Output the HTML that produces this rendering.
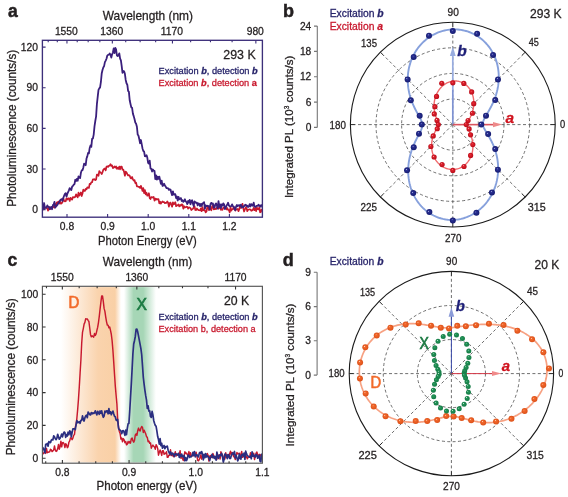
<!DOCTYPE html><html><head><meta charset="utf-8"><style>html,body{margin:0;padding:0;background:#fff;}svg{display:block;will-change:transform;}text{font-family:"Liberation Sans",sans-serif;}</style></head><body>
<svg width="568" height="497" viewBox="0 0 568 497">
<defs>
<radialGradient id="gb" cx="0.5" cy="0.5" r="0.5" fx="0.36" fy="0.34"><stop offset="0" stop-color="#e8ecff"/><stop offset="0.22" stop-color="#2a3195"/><stop offset="1" stop-color="#161b70"/></radialGradient>
<radialGradient id="gr" cx="0.5" cy="0.5" r="0.5" fx="0.36" fy="0.34"><stop offset="0" stop-color="#fff0f0"/><stop offset="0.22" stop-color="#e3242f"/><stop offset="1" stop-color="#b80c1a"/></radialGradient>
<radialGradient id="go" cx="0.5" cy="0.5" r="0.5" fx="0.36" fy="0.34"><stop offset="0" stop-color="#fff0e0"/><stop offset="0.22" stop-color="#f36a2e"/><stop offset="1" stop-color="#dc5018"/></radialGradient>
<radialGradient id="gg" cx="0.5" cy="0.5" r="0.5" fx="0.36" fy="0.34"><stop offset="0" stop-color="#e0f5e8"/><stop offset="0.22" stop-color="#24955a"/><stop offset="1" stop-color="#147a44"/></radialGradient>
<linearGradient id="orb" x1="61" y1="0" x2="121" y2="0" gradientUnits="userSpaceOnUse"><stop offset="0" stop-color="#fad3ad" stop-opacity="0"/><stop offset="0.62" stop-color="#fad3ad" stop-opacity="1"/><stop offset="0.9" stop-color="#f9d0a6" stop-opacity="1"/><stop offset="1" stop-color="#f9d0a6" stop-opacity="0"/></linearGradient>
<linearGradient id="grb" x1="124" y1="0" x2="156" y2="0" gradientUnits="userSpaceOnUse"><stop offset="0" stop-color="#a6d6b6" stop-opacity="0"/><stop offset="0.3" stop-color="#a6d6b6" stop-opacity="1"/><stop offset="0.6" stop-color="#a6d6b6" stop-opacity="1"/><stop offset="1" stop-color="#a6d6b6" stop-opacity="0"/></linearGradient>
</defs>
<rect width="568" height="497" fill="#fff"/>
<defs><clipPath id="ca"><rect x="42.4" y="40.3" width="220" height="176.9"/></clipPath></defs>
<g clip-path="url(#ca)" fill="none" stroke-linejoin="round">
<path d="M42.50,209.02 L43.30,209.43 L44.10,208.43 L44.90,207.36 L45.70,207.88 L46.50,207.06 L47.30,208.73 L48.10,210.62 L48.90,207.64 L49.70,207.24 L50.50,208.88 L51.30,208.55 L52.10,207.80 L52.90,205.90 L53.70,207.01 L54.50,207.72 L55.30,204.18 L56.10,204.90 L56.90,202.27 L57.70,202.66 L58.50,201.53 L59.30,203.56 L60.10,201.75 L60.90,203.73 L61.70,203.26 L62.50,202.11 L63.30,198.12 L64.10,200.80 L64.90,201.42 L65.70,201.23 L66.50,198.32 L67.30,199.48 L68.10,198.43 L68.90,198.47 L69.70,200.99 L70.50,197.84 L71.30,198.64 L72.10,199.68 L72.90,197.05 L73.70,197.31 L74.50,197.30 L75.30,196.71 L76.10,194.30 L76.90,195.97 L77.70,197.44 L78.50,192.59 L79.30,195.66 L80.10,194.10 L80.90,192.50 L81.70,196.04 L82.50,193.47 L83.30,189.61 L84.10,190.79 L84.90,190.86 L85.70,188.92 L86.50,189.34 L87.30,187.39 L88.10,187.70 L88.90,187.93 L89.70,183.77 L90.50,184.07 L91.30,182.28 L92.10,182.21 L92.90,179.32 L93.70,179.33 L94.50,179.20 L95.30,180.12 L96.10,179.49 L96.90,174.67 L97.70,174.55 L98.50,175.84 L99.30,171.01 L100.10,172.49 L100.90,172.59 L101.70,174.04 L102.50,172.36 L103.30,169.84 L104.10,168.88 L104.90,168.43 L105.70,170.40 L106.50,166.74 L107.30,166.27 L108.10,166.88 L108.90,165.90 L109.70,165.57 L110.50,164.19 L111.30,165.90 L112.10,165.51 L112.90,168.12 L113.70,167.47 L114.50,166.50 L115.30,167.61 L116.10,166.41 L116.90,168.84 L117.70,167.74 L118.50,168.91 L119.30,166.57 L120.10,169.35 L120.90,166.64 L121.70,166.54 L122.50,169.76 L123.30,169.57 L124.10,171.97 L124.90,175.72 L125.70,171.52 L126.50,172.26 L127.30,174.28 L128.10,175.41 L128.90,175.03 L129.70,175.71 L130.50,177.94 L131.30,178.46 L132.10,176.96 L132.90,179.38 L133.70,180.60 L134.50,180.04 L135.30,183.05 L136.10,182.59 L136.90,186.43 L137.70,186.32 L138.50,186.95 L139.30,186.74 L140.10,188.06 L140.90,185.88 L141.70,187.99 L142.50,190.97 L143.30,188.03 L144.10,193.07 L144.90,190.01 L145.70,194.31 L146.50,192.69 L147.30,195.70 L148.10,195.20 L148.90,193.22 L149.70,198.10 L150.50,199.03 L151.30,197.08 L152.10,197.10 L152.90,197.67 L153.70,197.02 L154.50,200.62 L155.30,198.64 L156.10,199.65 L156.90,198.93 L157.70,199.47 L158.50,199.04 L159.30,203.32 L160.10,201.69 L160.90,203.61 L161.70,202.39 L162.50,201.45 L163.30,202.18 L164.10,202.10 L164.90,203.16 L165.70,202.78 L166.50,202.93 L167.30,201.40 L168.10,202.61 L168.90,206.58 L169.70,203.13 L170.50,202.56 L171.30,205.00 L172.10,206.73 L172.90,202.42 L173.70,204.27 L174.50,203.72 L175.30,202.20 L176.10,206.21 L176.90,205.35 L177.70,205.50 L178.50,204.43 L179.30,206.38 L180.10,205.09 L180.90,205.74 L181.70,204.39 L182.50,204.56 L183.30,208.71 L184.10,206.23 L184.90,207.51 L185.70,207.20 L186.50,206.67 L187.30,206.78 L188.10,208.66 L188.90,207.37 L189.70,207.63 L190.50,208.12 L191.30,210.04 L192.10,209.40 L192.90,208.87 L193.70,207.31 L194.50,206.18 L195.30,209.96 L196.10,210.16 L196.90,208.50 L197.70,209.58 L198.50,210.09 L199.30,210.26 L200.10,210.33 L200.90,208.33 L201.70,211.19 L202.50,207.12 L203.30,210.28 L204.10,209.93 L204.90,210.63 L205.70,212.27 L206.50,211.50 L207.30,207.17 L208.10,206.30 L208.90,210.16 L209.70,207.52 L210.50,209.07 L211.30,210.33 L212.10,206.35 L212.90,205.59 L213.70,209.38 L214.50,209.23 L215.30,208.78 L216.10,209.14 L216.90,207.66 L217.70,206.65 L218.50,208.71 L219.30,207.47 L220.10,206.51 L220.90,209.89 L221.70,209.21 L222.50,209.80 L223.30,207.62 L224.10,208.01 L224.90,207.50 L225.70,207.76 L226.50,209.44 L227.30,208.06 L228.10,209.82 L228.90,210.06 L229.70,212.48 L230.50,207.31 L231.30,210.62 L232.10,209.25 L232.90,209.16 L233.70,206.94 L234.50,208.53 L235.30,210.50 L236.10,209.29 L236.90,209.45 L237.70,209.00 L238.50,211.21 L239.30,209.25 L240.10,205.75 L240.90,207.89 L241.70,205.85 L242.50,203.91 L243.30,208.37 L244.10,211.53 L244.90,209.50 L245.70,207.44 L246.50,207.90 L247.30,211.19 L248.10,209.80 L248.90,209.53 L249.70,209.37 L250.50,209.58 L251.30,210.81 L252.10,210.44 L252.90,209.77 L253.70,207.84 L254.50,210.14 L255.30,208.51 L256.10,211.07 L256.90,207.51 L257.70,209.15 L258.50,209.34 L259.30,207.50 L260.10,212.30 L260.90,211.98 L261.70,208.88" stroke="#c8192e" stroke-width="1.7"/>
<path d="M42.50,209.50 L43.30,208.49 L44.10,203.03 L44.90,208.03 L45.70,207.66 L46.50,207.67 L47.30,205.44 L48.10,206.72 L48.90,206.98 L49.70,209.33 L50.50,207.65 L51.30,206.84 L52.10,209.20 L52.90,205.07 L53.70,204.61 L54.50,201.82 L55.30,207.57 L56.10,206.25 L56.90,205.51 L57.70,204.39 L58.50,202.70 L59.30,202.15 L60.10,200.45 L60.90,199.56 L61.70,199.17 L62.50,200.84 L63.30,198.05 L64.10,195.78 L64.90,193.86 L65.70,193.15 L66.50,196.62 L67.30,193.94 L68.10,192.15 L68.90,190.41 L69.70,188.13 L70.50,189.26 L71.30,190.10 L72.10,186.72 L72.90,185.84 L73.70,184.81 L74.50,184.14 L75.30,179.77 L76.10,180.98 L76.90,178.84 L77.70,180.76 L78.50,176.45 L79.30,177.66 L80.10,178.02 L80.90,172.81 L81.70,170.43 L82.50,170.15 L83.30,167.68 L84.10,163.59 L84.90,164.36 L85.70,165.21 L86.50,158.55 L87.30,156.34 L88.10,152.84 L88.90,153.38 L89.70,147.94 L90.50,145.49 L91.30,146.89 L92.10,138.86 L92.90,138.53 L93.70,134.61 L94.50,126.41 L95.30,121.00 L96.10,116.37 L96.90,104.13 L97.70,96.88 L98.50,89.93 L99.30,88.41 L100.10,87.42 L100.90,81.99 L101.70,73.57 L102.50,69.97 L103.30,67.48 L104.10,66.08 L104.90,62.08 L105.70,60.59 L106.50,58.75 L107.30,55.54 L108.10,54.80 L108.90,54.69 L109.70,53.55 L110.50,54.67 L111.30,57.57 L112.10,54.31 L112.90,52.49 L113.70,48.46 L114.50,53.11 L115.30,47.94 L116.10,49.52 L116.90,55.45 L117.70,56.01 L118.50,55.19 L119.30,53.42 L120.10,58.52 L120.90,60.33 L121.70,66.24 L122.50,72.85 L123.30,71.01 L124.10,71.39 L124.90,73.81 L125.70,79.92 L126.50,83.27 L127.30,84.74 L128.10,90.87 L128.90,91.84 L129.70,100.31 L130.50,103.97 L131.30,107.39 L132.10,107.78 L132.90,113.62 L133.70,116.12 L134.50,119.08 L135.30,122.45 L136.10,123.67 L136.90,126.76 L137.70,134.58 L138.50,135.70 L139.30,139.29 L140.10,143.22 L140.90,140.00 L141.70,144.10 L142.50,148.44 L143.30,150.99 L144.10,151.56 L144.90,156.23 L145.70,156.37 L146.50,155.15 L147.30,157.52 L148.10,162.78 L148.90,163.62 L149.70,160.68 L150.50,168.49 L151.30,168.88 L152.10,171.54 L152.90,169.50 L153.70,170.73 L154.50,170.79 L155.30,179.06 L156.10,175.44 L156.90,179.63 L157.70,176.60 L158.50,178.90 L159.30,176.56 L160.10,180.13 L160.90,183.76 L161.70,180.72 L162.50,185.97 L163.30,185.55 L164.10,183.72 L164.90,185.54 L165.70,186.59 L166.50,188.18 L167.30,188.04 L168.10,188.26 L168.90,189.92 L169.70,189.26 L170.50,189.52 L171.30,192.72 L172.10,195.09 L172.90,191.33 L173.70,194.63 L174.50,194.12 L175.30,194.21 L176.10,198.15 L176.90,196.46 L177.70,200.48 L178.50,196.91 L179.30,199.30 L180.10,198.63 L180.90,198.11 L181.70,200.97 L182.50,200.16 L183.30,201.84 L184.10,200.92 L184.90,199.31 L185.70,201.43 L186.50,202.23 L187.30,204.07 L188.10,200.95 L188.90,202.47 L189.70,199.83 L190.50,204.23 L191.30,201.31 L192.10,200.15 L192.90,203.73 L193.70,206.06 L194.50,201.39 L195.30,202.16 L196.10,202.98 L196.90,202.59 L197.70,205.43 L198.50,203.45 L199.30,203.73 L200.10,206.16 L200.90,203.95 L201.70,205.99 L202.50,203.49 L203.30,202.88 L204.10,202.12 L204.90,208.92 L205.70,205.28 L206.50,206.15 L207.30,205.76 L208.10,206.13 L208.90,206.19 L209.70,209.44 L210.50,204.03 L211.30,202.83 L212.10,203.82 L212.90,203.52 L213.70,207.48 L214.50,207.68 L215.30,204.29 L216.10,203.42 L216.90,205.55 L217.70,208.56 L218.50,201.11 L219.30,206.88 L220.10,204.42 L220.90,208.06 L221.70,204.36 L222.50,205.53 L223.30,203.36 L224.10,204.50 L224.90,209.00 L225.70,208.06 L226.50,205.64 L227.30,204.53 L228.10,202.70 L228.90,205.49 L229.70,206.35 L230.50,206.29 L231.30,206.17 L232.10,204.34 L232.90,206.25 L233.70,206.57 L234.50,209.16 L235.30,210.20 L236.10,206.40 L236.90,205.07 L237.70,206.29 L238.50,205.33 L239.30,205.10 L240.10,206.28 L240.90,204.67 L241.70,207.63 L242.50,206.50 L243.30,207.06 L244.10,206.22 L244.90,205.13 L245.70,204.73 L246.50,206.03 L247.30,205.60 L248.10,207.04 L248.90,206.53 L249.70,204.08 L250.50,206.51 L251.30,204.06 L252.10,205.33 L252.90,205.84 L253.70,202.72 L254.50,206.66 L255.30,206.97 L256.10,206.36 L256.90,205.83 L257.70,205.84 L258.50,204.78 L259.30,206.02 L260.10,205.63 L260.90,206.69 L261.70,204.42" stroke="#3a1f7c" stroke-width="1.8"/>
</g>
<rect x="42.4" y="40.3" width="219.99999999999997" height="176.89999999999998" fill="none" stroke="#3d2f7a" stroke-width="1.35"/>
<path d="M67.00,217.2 V214.00 M107.60,217.2 V214.00 M148.20,217.2 V214.00 M188.80,217.2 V214.00 M229.40,217.2 V214.00 M42.4,209.60 H45.60 M42.4,168.98 H45.60 M42.4,128.36 H45.60 M42.4,87.74 H45.60 M42.4,47.12 H45.60 M48.20,40.3 V42.30 M57.30,40.3 V42.30 M66.96,40.3 V43.50 M77.22,40.3 V42.30 M88.16,40.3 V42.30 M99.84,40.3 V42.30 M112.33,40.3 V43.50 M125.72,40.3 V42.30 M140.12,40.3 V42.30 M155.65,40.3 V42.30 M172.44,40.3 V43.50 M190.64,40.3 V42.30 M210.46,40.3 V42.30 M232.10,40.3 V42.30 M255.85,40.3 V43.50" stroke="#3d2f7a" stroke-width="1.1" fill="none"/>
<text x="8.00" y="16.90" font-size="17.5" fill="#231f20" stroke="#231f20" stroke-width="0.5" font-weight="bold">a</text>
<text x="102.80" y="19.80" font-size="12.4" fill="#231f20" stroke="#231f20" stroke-width="0.28" textLength="90.20" lengthAdjust="spacingAndGlyphs">Wavelength (nm)</text>
<text x="66.36" y="35.00" font-size="10.3" fill="#231f20" stroke="#231f20" stroke-width="0.28" text-anchor="middle">1550</text>
<text x="111.73" y="35.00" font-size="10.3" fill="#231f20" stroke="#231f20" stroke-width="0.28" text-anchor="middle">1360</text>
<text x="171.84" y="35.00" font-size="10.3" fill="#231f20" stroke="#231f20" stroke-width="0.28" text-anchor="middle">1170</text>
<text x="255.25" y="35.00" font-size="10.3" fill="#231f20" stroke="#231f20" stroke-width="0.28" text-anchor="middle">980</text>
<text x="38.00" y="213.30" font-size="10.3" fill="#231f20" stroke="#231f20" stroke-width="0.28" text-anchor="end">0</text>
<text x="38.00" y="172.68" font-size="10.3" fill="#231f20" stroke="#231f20" stroke-width="0.28" text-anchor="end">30</text>
<text x="38.00" y="132.06" font-size="10.3" fill="#231f20" stroke="#231f20" stroke-width="0.28" text-anchor="end">60</text>
<text x="38.00" y="91.44" font-size="10.3" fill="#231f20" stroke="#231f20" stroke-width="0.28" text-anchor="end">90</text>
<text x="38.00" y="50.82" font-size="10.3" fill="#231f20" stroke="#231f20" stroke-width="0.28" text-anchor="end">120</text>
<text x="67.00" y="229.80" font-size="10.3" fill="#231f20" stroke="#231f20" stroke-width="0.28" text-anchor="middle">0.8</text>
<text x="107.60" y="229.80" font-size="10.3" fill="#231f20" stroke="#231f20" stroke-width="0.28" text-anchor="middle">0.9</text>
<text x="148.20" y="229.80" font-size="10.3" fill="#231f20" stroke="#231f20" stroke-width="0.28" text-anchor="middle">1.0</text>
<text x="188.80" y="229.80" font-size="10.3" fill="#231f20" stroke="#231f20" stroke-width="0.28" text-anchor="middle">1.1</text>
<text x="229.40" y="229.80" font-size="10.3" fill="#231f20" stroke="#231f20" stroke-width="0.28" text-anchor="middle">1.2</text>
<text x="98.00" y="244.50" font-size="12.2" fill="#231f20" stroke="#231f20" stroke-width="0.28" textLength="98.70" lengthAdjust="spacingAndGlyphs">Photon Energy (eV)</text>
<text x="16.40" y="206.80" font-size="12.0" fill="#231f20" stroke="#231f20" stroke-width="0.28" textLength="157.00" lengthAdjust="spacingAndGlyphs" transform="rotate(-90 16.40 206.80)">Photoluminescence (counts/s)</text>
<text x="223.30" y="59.20" font-size="13.2" fill="#231f20" stroke="#231f20" stroke-width="0.28" textLength="32.40" lengthAdjust="spacingAndGlyphs">293 K</text>
<text x="158.50" y="74.40" font-size="9.2" fill="#27246a" stroke="#27246a" stroke-width="0.28" textLength="99.20" lengthAdjust="spacingAndGlyphs">Excitation <tspan font-weight="bold" font-style="italic">b</tspan>, detection <tspan font-weight="bold" font-style="italic">b</tspan></text>
<text x="158.50" y="86.20" font-size="9.2" fill="#c8192e" stroke="#c8192e" stroke-width="0.28" textLength="98.40" lengthAdjust="spacingAndGlyphs">Excitation <tspan font-weight="bold" font-style="italic">b</tspan>, detection <tspan font-weight="bold">a</tspan></text>
<rect x="61" y="287.1" width="60" height="175.29999999999998" fill="url(#orb)"/>
<rect x="124" y="287.1" width="32" height="175.29999999999998" fill="url(#grb)"/>
<defs><clipPath id="cc"><rect x="42.4" y="286.3" width="220" height="176.9"/></clipPath></defs>
<g clip-path="url(#cc)" fill="none" stroke-linejoin="round">
<path d="M42.50,454.02 L43.30,453.54 L44.10,452.59 L44.90,451.74 L45.70,453.39 L46.50,448.51 L47.30,452.71 L48.10,452.22 L48.90,452.01 L49.70,451.82 L50.50,449.26 L51.30,449.84 L52.10,451.59 L52.90,450.91 L53.70,449.87 L54.50,445.93 L55.30,450.12 L56.10,451.49 L56.90,450.82 L57.70,448.54 L58.50,444.43 L59.30,449.39 L60.10,446.64 L60.90,441.16 L61.70,446.83 L62.50,442.64 L63.30,442.53 L64.10,443.86 L64.90,447.60 L65.70,443.79 L66.50,444.76 L67.30,447.65 L68.10,446.73 L68.90,442.25 L69.70,440.89 L70.50,437.85 L71.30,438.21 L72.10,439.67 L72.90,438.09 L73.70,435.38 L74.50,434.39 L75.30,427.30 L76.10,423.96 L76.90,418.03 L77.70,409.19 L78.50,398.85 L79.30,386.65 L80.10,373.16 L80.90,359.93 L81.70,343.17 L82.50,332.40 L83.30,328.58 L84.10,324.08 L84.90,322.33 L85.70,318.75 L86.50,319.14 L87.30,318.95 L88.10,320.33 L88.90,321.49 L89.70,327.75 L90.50,334.43 L91.30,336.88 L92.10,335.87 L92.90,336.49 L93.70,337.15 L94.50,333.56 L95.30,335.44 L96.10,333.82 L96.90,330.40 L97.70,327.19 L98.50,322.26 L99.30,316.04 L100.10,308.82 L100.90,302.20 L101.70,295.96 L102.50,295.93 L103.30,301.41 L104.10,308.39 L104.90,311.34 L105.70,316.86 L106.50,321.57 L107.30,325.02 L108.10,325.12 L108.90,327.77 L109.70,326.97 L110.50,330.32 L111.30,334.24 L112.10,340.61 L112.90,350.18 L113.70,361.86 L114.50,374.25 L115.30,386.11 L116.10,395.31 L116.90,404.03 L117.70,420.38 L118.50,426.54 L119.30,431.48 L120.10,433.43 L120.90,439.03 L121.70,437.96 L122.50,441.83 L123.30,438.61 L124.10,439.59 L124.90,442.65 L125.70,441.52 L126.50,444.86 L127.30,444.14 L128.10,441.48 L128.90,443.04 L129.70,441.57 L130.50,443.16 L131.30,438.70 L132.10,437.96 L132.90,440.70 L133.70,442.20 L134.50,440.46 L135.30,434.86 L136.10,433.88 L136.90,435.46 L137.70,430.80 L138.50,428.11 L139.30,430.20 L140.10,430.97 L140.90,428.19 L141.70,426.48 L142.50,427.47 L143.30,432.49 L144.10,430.14 L144.90,431.98 L145.70,433.82 L146.50,436.67 L147.30,437.35 L148.10,441.71 L148.90,441.09 L149.70,443.35 L150.50,442.94 L151.30,448.19 L152.10,446.31 L152.90,445.08 L153.70,446.29 L154.50,447.12 L155.30,449.28 L156.10,444.65 L156.90,446.07 L157.70,448.37 L158.50,455.17 L159.30,452.20 L160.10,450.04 L160.90,452.26 L161.70,455.42 L162.50,450.72 L163.30,450.63 L164.10,454.37 L164.90,453.27 L165.70,453.74 L166.50,451.74 L167.30,457.36 L168.10,457.37 L168.90,455.11 L169.70,455.21 L170.50,449.76 L171.30,455.59 L172.10,454.39 L172.90,455.97 L173.70,456.68 L174.50,454.40 L175.30,451.62 L176.10,456.02 L176.90,453.89 L177.70,454.69 L178.50,454.20 L179.30,454.56 L180.10,450.65 L180.90,458.25 L181.70,456.67 L182.50,458.62 L183.30,460.47 L184.10,455.97 L184.90,451.76 L185.70,453.56 L186.50,453.07 L187.30,454.71 L188.10,455.86 L188.90,451.54 L189.70,456.33 L190.50,452.68 L191.30,456.47 L192.10,455.75 L192.90,455.27 L193.70,455.73 L194.50,454.70 L195.30,454.34 L196.10,452.13 L196.90,455.95 L197.70,460.40 L198.50,460.85 L199.30,459.31 L200.10,457.67 L200.90,454.75 L201.70,459.15 L202.50,456.05 L203.30,455.80 L204.10,455.35 L204.90,456.12 L205.70,455.02 L206.50,455.62 L207.30,453.50 L208.10,455.31 L208.90,461.08 L209.70,456.10 L210.50,455.52 L211.30,457.26 L212.10,457.52 L212.90,453.56 L213.70,455.51 L214.50,458.07 L215.30,456.74 L216.10,456.50 L216.90,459.43 L217.70,454.68 L218.50,456.04 L219.30,455.03 L220.10,459.04 L220.90,451.71 L221.70,454.18 L222.50,454.81 L223.30,457.50 L224.10,457.62 L224.90,459.02 L225.70,452.73 L226.50,457.46 L227.30,455.35 L228.10,454.53 L228.90,457.02 L229.70,453.74 L230.50,451.17 L231.30,454.72 L232.10,452.50 L232.90,454.40 L233.70,456.79 L234.50,456.95 L235.30,459.58 L236.10,455.56 L236.90,452.43 L237.70,453.99 L238.50,453.68 L239.30,453.20 L240.10,456.75 L240.90,454.36 L241.70,451.56 L242.50,457.31 L243.30,455.88 L244.10,456.80 L244.90,456.36 L245.70,457.44 L246.50,456.32 L247.30,458.84 L248.10,457.16 L248.90,456.99 L249.70,456.79 L250.50,452.75 L251.30,455.42 L252.10,455.42 L252.90,456.26 L253.70,453.17 L254.50,459.52 L255.30,456.29 L256.10,453.07 L256.90,451.97 L257.70,455.14 L258.50,455.67 L259.30,454.38 L260.10,456.04 L260.90,454.64 L261.70,457.16" stroke="#c8192e" stroke-width="1.45"/>
<path d="M42.50,447.29 L43.30,448.23 L44.10,450.18 L44.90,452.82 L45.70,444.43 L46.50,444.55 L47.30,443.39 L48.10,446.17 L48.90,441.53 L49.70,442.27 L50.50,442.70 L51.30,440.08 L52.10,439.53 L52.90,439.88 L53.70,435.85 L54.50,436.73 L55.30,438.70 L56.10,439.55 L56.90,438.18 L57.70,434.24 L58.50,436.67 L59.30,439.17 L60.10,438.24 L60.90,436.23 L61.70,434.07 L62.50,436.81 L63.30,433.81 L64.10,432.01 L64.90,432.69 L65.70,437.30 L66.50,434.59 L67.30,435.99 L68.10,432.22 L68.90,434.61 L69.70,430.95 L70.50,431.61 L71.30,436.88 L72.10,432.58 L72.90,428.81 L73.70,428.75 L74.50,428.85 L75.30,429.60 L76.10,424.61 L76.90,420.61 L77.70,422.63 L78.50,422.38 L79.30,421.72 L80.10,423.35 L80.90,420.37 L81.70,420.33 L82.50,415.92 L83.30,419.18 L84.10,421.06 L84.90,417.71 L85.70,415.82 L86.50,415.17 L87.30,417.75 L88.10,412.05 L88.90,413.27 L89.70,414.49 L90.50,414.96 L91.30,412.58 L92.10,413.89 L92.90,412.78 L93.70,413.49 L94.50,412.87 L95.30,410.87 L96.10,413.16 L96.90,414.91 L97.70,411.26 L98.50,412.62 L99.30,414.35 L100.10,410.96 L100.90,413.15 L101.70,410.84 L102.50,415.07 L103.30,417.29 L104.10,416.08 L104.90,411.05 L105.70,412.31 L106.50,410.89 L107.30,410.92 L108.10,413.78 L108.90,408.62 L109.70,413.42 L110.50,411.83 L111.30,414.79 L112.10,412.56 L112.90,411.10 L113.70,413.83 L114.50,416.24 L115.30,416.70 L116.10,420.04 L116.90,420.55 L117.70,419.49 L118.50,428.05 L119.30,429.76 L120.10,430.05 L120.90,431.04 L121.70,433.64 L122.50,430.89 L123.30,430.65 L124.10,432.31 L124.90,435.38 L125.70,430.18 L126.50,434.63 L127.30,428.30 L128.10,423.78 L128.90,423.55 L129.70,411.55 L130.50,397.72 L131.30,384.08 L132.10,369.24 L132.90,353.78 L133.70,344.05 L134.50,340.70 L135.30,336.47 L136.10,329.39 L136.90,329.15 L137.70,331.84 L138.50,335.94 L139.30,340.16 L140.10,344.38 L140.90,348.65 L141.70,354.74 L142.50,365.80 L143.30,377.26 L144.10,384.04 L144.90,390.33 L145.70,395.63 L146.50,400.09 L147.30,408.50 L148.10,405.93 L148.90,411.02 L149.70,410.80 L150.50,416.53 L151.30,417.35 L152.10,411.35 L152.90,414.96 L153.70,420.45 L154.50,423.18 L155.30,425.37 L156.10,426.32 L156.90,431.20 L157.70,436.56 L158.50,439.63 L159.30,444.20 L160.10,438.62 L160.90,445.61 L161.70,443.37 L162.50,448.26 L163.30,446.40 L164.10,445.51 L164.90,448.67 L165.70,446.51 L166.50,446.86 L167.30,446.17 L168.10,450.20 L168.90,452.20 L169.70,453.85 L170.50,451.97 L171.30,454.86 L172.10,453.14 L172.90,453.26 L173.70,455.19 L174.50,456.52 L175.30,453.71 L176.10,453.99 L176.90,454.40 L177.70,455.02 L178.50,453.26 L179.30,457.46 L180.10,454.76 L180.90,456.52 L181.70,454.02 L182.50,456.66 L183.30,456.90 L184.10,455.50 L184.90,460.78 L185.70,457.63 L186.50,460.55 L187.30,458.74 L188.10,455.06 L188.90,455.61 L189.70,457.44 L190.50,456.70 L191.30,456.58 L192.10,455.64 L192.90,452.37 L193.70,455.49 L194.50,451.53 L195.30,456.97 L196.10,454.82 L196.90,454.77 L197.70,455.95 L198.50,456.91 L199.30,453.09 L200.10,452.25 L200.90,453.63 L201.70,451.65 L202.50,454.27 L203.30,459.83 L204.10,454.40 L204.90,457.66 L205.70,453.53 L206.50,456.96 L207.30,455.81 L208.10,456.40 L208.90,457.99 L209.70,460.55 L210.50,457.17 L211.30,456.68 L212.10,454.40 L212.90,457.66 L213.70,456.12 L214.50,458.34 L215.30,456.72 L216.10,460.16 L216.90,452.22 L217.70,455.69 L218.50,458.40 L219.30,455.72 L220.10,454.64 L220.90,455.63 L221.70,453.38 L222.50,456.90 L223.30,462.15 L224.10,459.24 L224.90,454.04 L225.70,454.35 L226.50,455.61 L227.30,458.61 L228.10,454.69 L228.90,454.95 L229.70,458.51 L230.50,458.51 L231.30,455.63 L232.10,453.74 L232.90,452.79 L233.70,454.45 L234.50,451.49 L235.30,457.83 L236.10,455.24 L236.90,457.74 L237.70,460.91 L238.50,459.23 L239.30,454.17 L240.10,458.46 L240.90,459.12 L241.70,454.85 L242.50,454.25 L243.30,455.93 L244.10,453.07 L244.90,459.31 L245.70,451.13 L246.50,453.68 L247.30,455.73 L248.10,455.98 L248.90,456.88 L249.70,457.10 L250.50,456.20 L251.30,458.76 L252.10,451.83 L252.90,456.14 L253.70,454.91 L254.50,456.74 L255.30,456.90 L256.10,454.40 L256.90,455.04 L257.70,458.25 L258.50,457.30 L259.30,455.27 L260.10,461.29 L260.90,461.77 L261.70,453.50" stroke="#2b2e80" stroke-width="1.7"/>
</g>
<rect x="42.4" y="286.3" width="219.99999999999997" height="176.89999999999998" fill="none" stroke="#555" stroke-width="1.15"/>
<path d="M45.73,463.2 V461.20 M62.40,463.2 V460.00 M79.07,463.2 V461.20 M95.74,463.2 V461.20 M112.40,463.2 V461.20 M129.07,463.2 V460.00 M145.74,463.2 V461.20 M162.41,463.2 V461.20 M179.07,463.2 V461.20 M195.74,463.2 V460.00 M212.41,463.2 V461.20 M229.08,463.2 V461.20 M245.74,463.2 V461.20 M42.4,458.20 H45.60 M42.4,425.40 H45.60 M42.4,392.60 H45.60 M42.4,359.80 H45.60 M42.4,327.00 H45.60 M42.4,294.20 H45.60 M46.47,286.3 V288.30 M62.33,286.3 V289.50 M79.19,286.3 V288.30 M97.15,286.3 V288.30 M116.32,286.3 V288.30 M136.84,286.3 V289.50 M158.83,286.3 V288.30 M182.48,286.3 V288.30 M207.97,286.3 V288.30 M235.54,286.3 V289.50" stroke="#333" stroke-width="1.1" fill="none"/>
<text x="7.60" y="265.80" font-size="17.5" fill="#231f20" stroke="#231f20" stroke-width="0.5" font-weight="bold">c</text>
<text x="102.80" y="265.90" font-size="12.4" fill="#231f20" stroke="#231f20" stroke-width="0.28" textLength="89.50" lengthAdjust="spacingAndGlyphs">Wavelength (nm)</text>
<text x="62.33" y="280.90" font-size="10.3" fill="#231f20" stroke="#231f20" stroke-width="0.28" text-anchor="middle">1550</text>
<text x="136.84" y="280.90" font-size="10.3" fill="#231f20" stroke="#231f20" stroke-width="0.28" text-anchor="middle">1360</text>
<text x="235.54" y="280.90" font-size="10.3" fill="#231f20" stroke="#231f20" stroke-width="0.28" text-anchor="middle">1170</text>
<text x="38.20" y="461.90" font-size="10.3" fill="#231f20" stroke="#231f20" stroke-width="0.28" text-anchor="end">0</text>
<text x="38.20" y="429.10" font-size="10.3" fill="#231f20" stroke="#231f20" stroke-width="0.28" text-anchor="end">20</text>
<text x="38.20" y="396.30" font-size="10.3" fill="#231f20" stroke="#231f20" stroke-width="0.28" text-anchor="end">40</text>
<text x="38.20" y="363.50" font-size="10.3" fill="#231f20" stroke="#231f20" stroke-width="0.28" text-anchor="end">60</text>
<text x="38.20" y="330.70" font-size="10.3" fill="#231f20" stroke="#231f20" stroke-width="0.28" text-anchor="end">80</text>
<text x="38.20" y="297.90" font-size="10.3" fill="#231f20" stroke="#231f20" stroke-width="0.28" text-anchor="end">100</text>
<text x="62.40" y="476.30" font-size="10.3" fill="#231f20" stroke="#231f20" stroke-width="0.28" text-anchor="middle">0.8</text>
<text x="129.07" y="476.30" font-size="10.3" fill="#231f20" stroke="#231f20" stroke-width="0.28" text-anchor="middle">0.9</text>
<text x="195.74" y="476.30" font-size="10.3" fill="#231f20" stroke="#231f20" stroke-width="0.28" text-anchor="middle">1.0</text>
<text x="262.41" y="476.30" font-size="10.3" fill="#231f20" stroke="#231f20" stroke-width="0.28" text-anchor="middle">1.1</text>
<text x="96.50" y="489.60" font-size="12.2" fill="#231f20" stroke="#231f20" stroke-width="0.28" textLength="100.50" lengthAdjust="spacingAndGlyphs">Photon energy (eV)</text>
<text x="15.30" y="455.30" font-size="12.0" fill="#231f20" stroke="#231f20" stroke-width="0.28" textLength="157.00" lengthAdjust="spacingAndGlyphs" transform="rotate(-90 15.30 455.30)">Photoluminescence (counts/s)</text>
<text x="223.90" y="304.60" font-size="12.8" fill="#231f20" stroke="#231f20" stroke-width="0.28" textLength="25.30" lengthAdjust="spacingAndGlyphs">20 K</text>
<text x="158.50" y="319.80" font-size="9.2" fill="#27246a" stroke="#27246a" stroke-width="0.28" textLength="99.20" lengthAdjust="spacingAndGlyphs">Excitation <tspan font-weight="bold" font-style="italic">b</tspan>, detection <tspan font-weight="bold" font-style="italic">b</tspan></text>
<text x="158.50" y="331.60" font-size="9.2" fill="#c8192e" stroke="#c8192e" stroke-width="0.28" textLength="97.20" lengthAdjust="spacingAndGlyphs">Excitation b, detection a</text>
<text x="68.60" y="308.30" font-size="16.8" fill="#f26a2a" stroke="#f26a2a" stroke-width="0.7" textLength="10.80" lengthAdjust="spacingAndGlyphs">D</text>
<text x="136.60" y="309.50" font-size="17.2" fill="#1b7a42" stroke="#1b7a42" stroke-width="0.7" textLength="10.40" lengthAdjust="spacingAndGlyphs">X</text>
<circle cx="452.8" cy="124.6" r="25.60" fill="none" stroke="#555" stroke-width="0.85" stroke-dasharray="3 2.4"/>
<circle cx="452.8" cy="124.6" r="51.20" fill="none" stroke="#555" stroke-width="0.85" stroke-dasharray="3 2.4"/>
<circle cx="452.8" cy="124.6" r="76.80" fill="none" stroke="#555" stroke-width="0.85" stroke-dasharray="3 2.4"/>
<path d="M452.80,124.60 L551.20,124.60 M452.80,124.60 L522.38,55.02 M452.80,124.60 L452.80,26.20 M452.80,124.60 L383.22,55.02 M452.80,124.60 L354.40,124.60 M452.80,124.60 L383.22,194.18 M452.80,124.60 L452.80,223.00 M452.80,124.60 L522.38,194.18" fill="none" stroke="#555" stroke-width="0.85" stroke-dasharray="3 2.4"/>
<path d="M550.70,124.60 L555.20,124.60 M522.03,55.37 L525.21,52.19 M452.80,26.70 L452.80,22.20 M383.57,55.37 L380.39,52.19 M354.90,124.60 L350.40,124.60 M383.57,193.83 L380.39,197.01 M452.80,222.50 L452.80,227.00 M522.03,193.83 L525.21,197.01" fill="none" stroke="#222" stroke-width="1"/>
<circle cx="452.8" cy="124.6" r="102.4" fill="none" stroke="#1a1a1a" stroke-width="1.1"/>
<line x1="452.8" y1="124.6" x2="452.8" y2="55" stroke="#98acdf" stroke-width="1.7"/>
<polygon points="452.8,46.6 449.90000000000003,56 455.7,56" fill="#98acdf"/>
<line x1="452.8" y1="124.6" x2="493.5" y2="124.6" stroke="#ee8a8a" stroke-width="1.8"/>
<polygon points="502.2,124.6 493,121.89999999999999 493,127.3" fill="#ee8a8a"/>
<line x1="452.8" y1="124.6" x2="452.8" y2="90" stroke="#6677c4" stroke-width="0.7"/>
<line x1="452.8" y1="124.6" x2="493" y2="124.6" stroke="#d04050" stroke-width="0.8"/>
<path d="M482.97,124.60 L482.92,124.07 L482.91,123.55 L482.94,123.02 L483.00,122.49 L483.10,121.95 L483.24,121.40 L483.41,120.84 L483.61,120.27 L483.85,119.68 L484.12,119.08 L484.42,118.45 L484.75,117.81 L485.12,117.14 L485.51,116.45 L485.92,115.72 L486.36,114.98 L486.83,114.20 L487.31,113.39 L487.81,112.55 L488.33,111.67 L488.86,110.76 L489.40,109.81 L489.95,108.83 L490.50,107.81 L491.06,106.76 L491.62,105.67 L492.18,104.54 L492.73,103.37 L493.27,102.17 L493.81,100.92 L494.33,99.65 L494.83,98.34 L495.32,96.99 L495.78,95.61 L496.22,94.20 L496.63,92.75 L497.02,91.28 L497.37,89.78 L497.68,88.25 L497.97,86.70 L498.21,85.13 L498.41,83.53 L498.57,81.92 L498.68,80.29 L498.75,78.65 L498.77,77.00 L498.74,75.34 L498.66,73.67 L498.53,72.00 L498.34,70.32 L498.11,68.65 L497.81,66.98 L497.47,65.32 L497.07,63.67 L496.61,62.03 L496.10,60.41 L495.53,58.80 L494.90,57.22 L494.23,55.65 L493.49,54.12 L492.71,52.61 L491.87,51.13 L490.97,49.68 L490.03,48.27 L489.04,46.89 L487.99,45.56 L486.90,44.26 L485.76,43.01 L484.58,41.81 L483.36,40.65 L482.09,39.54 L480.78,38.48 L479.44,37.48 L478.06,36.52 L476.64,35.63 L475.19,34.79 L473.72,34.00 L472.21,33.28 L470.68,32.61 L469.13,32.01 L467.55,31.46 L465.96,30.98 L464.35,30.56 L462.72,30.21 L461.08,29.91 L459.44,29.68 L457.78,29.52 L456.12,29.42 L454.46,29.38 L452.80,29.41 L451.14,29.50 L449.48,29.65 L447.84,29.87 L446.20,30.14 L444.57,30.48 L442.95,30.89 L441.35,31.35 L439.77,31.87 L438.21,32.45 L436.66,33.09 L435.15,33.79 L433.66,34.54 L432.19,35.35 L430.76,36.21 L429.36,37.12 L427.99,38.08 L426.66,39.10 L425.36,40.16 L424.10,41.26 L422.89,42.41 L421.71,43.60 L420.57,44.83 L419.48,46.11 L418.43,47.41 L417.43,48.76 L416.48,50.13 L415.57,51.54 L414.71,52.97 L413.90,54.43 L413.14,55.92 L412.44,57.42 L411.78,58.95 L411.17,60.49 L410.61,62.05 L410.10,63.62 L409.64,65.20 L409.24,66.79 L408.88,68.38 L408.57,69.98 L408.31,71.58 L408.10,73.18 L407.94,74.78 L407.82,76.37 L407.75,77.95 L407.72,79.52 L407.74,81.09 L407.80,82.63 L407.90,84.17 L408.03,85.68 L408.20,87.18 L408.41,88.66 L408.65,90.11 L408.93,91.54 L409.23,92.95 L409.56,94.32 L409.92,95.68 L410.30,97.00 L410.70,98.29 L411.12,99.56 L411.56,100.79 L412.01,101.99 L412.48,103.16 L412.95,104.30 L413.43,105.40 L413.92,106.47 L414.41,107.51 L414.91,108.52 L415.40,109.49 L415.89,110.43 L416.37,111.34 L416.85,112.22 L417.32,113.07 L417.77,113.89 L418.21,114.68 L418.64,115.45 L419.05,116.19 L419.44,116.90 L419.82,117.59 L420.17,118.26 L420.49,118.90 L420.80,119.53 L421.07,120.14 L421.32,120.74 L421.55,121.32 L421.74,121.88 L421.91,122.44 L422.04,122.99 L422.15,123.53 L422.22,124.07 L422.27,124.60 L422.28,125.13 L422.26,125.67 L422.21,126.20 L422.14,126.74 L422.02,127.29 L421.88,127.85 L421.72,128.42 L421.52,129.00 L421.29,129.59 L421.04,130.20 L420.76,130.83 L420.45,131.48 L420.13,132.14 L419.78,132.83 L419.41,133.55 L419.02,134.29 L418.61,135.05 L418.18,135.85 L417.75,136.67 L417.30,137.52 L416.84,138.41 L416.37,139.32 L415.89,140.27 L415.41,141.25 L414.93,142.26 L414.44,143.31 L413.96,144.39 L413.49,145.50 L413.02,146.65 L412.55,147.84 L412.10,149.05 L411.67,150.30 L411.25,151.59 L410.84,152.90 L410.46,154.25 L410.10,155.62 L409.76,157.03 L409.46,158.46 L409.18,159.93 L408.93,161.41 L408.71,162.93 L408.53,164.46 L408.39,166.02 L408.28,167.59 L408.22,169.18 L408.19,170.79 L408.22,172.41 L408.28,174.04 L408.39,175.68 L408.55,177.33 L408.76,178.98 L409.02,180.63 L409.33,182.28 L409.70,183.93 L410.11,185.57 L410.58,187.20 L411.09,188.82 L411.67,190.43 L412.29,192.01 L412.97,193.58 L413.71,195.13 L414.49,196.65 L415.33,198.14 L416.22,199.60 L417.16,201.03 L418.15,202.42 L419.19,203.78 L420.28,205.09 L421.41,206.36 L422.59,207.59 L423.82,208.77 L425.09,209.89 L426.39,210.97 L427.74,211.99 L429.12,212.96 L430.54,213.86 L432.00,214.71 L433.48,215.50 L434.99,216.23 L436.53,216.89 L438.09,217.49 L439.67,218.03 L441.27,218.50 L442.89,218.90 L444.52,219.24 L446.16,219.50 L447.82,219.70 L449.47,219.83 L451.14,219.90 L452.80,219.89 L454.46,219.82 L456.12,219.68 L457.77,219.47 L459.41,219.20 L461.05,218.86 L462.66,218.46 L464.27,217.99 L465.85,217.46 L467.41,216.87 L468.96,216.22 L470.47,215.51 L471.96,214.74 L473.42,213.92 L474.85,213.05 L476.25,212.12 L477.61,211.14 L478.94,210.11 L480.24,209.04 L481.49,207.92 L482.70,206.76 L483.88,205.55 L485.01,204.31 L486.09,203.03 L487.14,201.72 L488.13,200.37 L489.09,199.00 L489.99,197.59 L490.85,196.16 L491.66,194.71 L492.42,193.23 L493.14,191.74 L493.81,190.22 L494.42,188.70 L494.99,187.15 L495.51,185.60 L495.99,184.04 L496.41,182.47 L496.79,180.90 L497.12,179.33 L497.40,177.75 L497.63,176.18 L497.82,174.61 L497.97,173.04 L498.07,171.48 L498.13,169.93 L498.15,168.39 L498.12,166.86 L498.06,165.35 L497.95,163.85 L497.81,162.37 L497.63,160.91 L497.42,159.46 L497.18,158.04 L496.90,156.64 L496.60,155.27 L496.26,153.92 L495.91,152.59 L495.52,151.30 L495.12,150.03 L494.69,148.79 L494.25,147.57 L493.79,146.39 L493.31,145.24 L492.82,144.12 L492.33,143.03 L491.82,141.97 L491.32,140.95 L490.80,139.95 L490.29,138.99 L489.78,138.06 L489.27,137.16 L488.77,136.29 L488.27,135.45 L487.79,134.63 L487.32,133.85 L486.86,133.09 L486.42,132.36 L486.00,131.66 L485.59,130.97 L485.21,130.32 L484.86,129.68 L484.53,129.06 L484.22,128.46 L483.95,127.87 L483.70,127.30 L483.49,126.75 L483.31,126.20 L483.16,125.66 L483.05,125.13 L482.97,124.60Z" fill="none" stroke="#86a0dc" stroke-width="1.9"/>
<path d="M467.00,124.60 L467.03,124.35 L467.08,124.10 L467.14,123.85 L467.21,123.59 L467.29,123.33 L467.39,123.07 L467.49,122.80 L467.61,122.52 L467.73,122.23 L467.87,121.94 L468.01,121.64 L468.17,121.33 L468.33,121.01 L468.51,120.68 L468.69,120.34 L468.87,119.99 L469.07,119.63 L469.27,119.25 L469.47,118.86 L469.68,118.46 L469.89,118.04 L470.11,117.61 L470.32,117.16 L470.54,116.70 L470.76,116.22 L470.98,115.73 L471.20,115.23 L471.41,114.70 L471.63,114.16 L471.84,113.61 L472.04,113.04 L472.23,112.46 L472.42,111.86 L472.61,111.24 L472.78,110.61 L472.94,109.97 L473.09,109.31 L473.23,108.64 L473.36,107.95 L473.47,107.25 L473.57,106.54 L473.65,105.83 L473.72,105.10 L473.76,104.36 L473.79,103.61 L473.80,102.85 L473.79,102.09 L473.76,101.32 L473.70,100.55 L473.63,99.78 L473.53,99.00 L473.40,98.23 L473.26,97.45 L473.09,96.68 L472.89,95.91 L472.67,95.14 L472.42,94.38 L472.15,93.63 L471.85,92.89 L471.53,92.16 L471.18,91.44 L470.81,90.73 L470.41,90.04 L469.99,89.36 L469.54,88.71 L469.06,88.07 L468.57,87.45 L468.05,86.85 L467.51,86.28 L466.95,85.73 L466.36,85.21 L465.76,84.71 L465.14,84.24 L464.50,83.80 L463.84,83.39 L463.17,83.01 L462.48,82.66 L461.78,82.34 L461.07,82.05 L460.35,81.80 L459.61,81.58 L458.87,81.39 L458.12,81.24 L457.37,81.12 L456.61,81.04 L455.85,80.99 L455.09,80.97 L454.32,80.99 L453.56,81.04 L452.80,81.13 L452.04,81.25 L451.29,81.40 L450.55,81.59 L449.81,81.80 L449.08,82.05 L448.36,82.33 L447.65,82.64 L446.95,82.98 L446.26,83.34 L445.59,83.73 L444.94,84.15 L444.30,84.59 L443.67,85.06 L443.06,85.54 L442.47,86.05 L441.90,86.58 L441.35,87.13 L440.81,87.70 L440.30,88.29 L439.80,88.89 L439.33,89.50 L438.87,90.13 L438.44,90.77 L438.03,91.43 L437.64,92.09 L437.27,92.76 L436.92,93.44 L436.59,94.12 L436.29,94.81 L436.00,95.51 L435.74,96.20 L435.49,96.90 L435.27,97.61 L435.07,98.31 L434.88,99.01 L434.72,99.71 L434.57,100.41 L434.44,101.10 L434.33,101.80 L434.24,102.48 L434.17,103.17 L434.11,103.84 L434.07,104.51 L434.04,105.17 L434.03,105.83 L434.03,106.47 L434.05,107.11 L434.08,107.74 L434.12,108.36 L434.17,108.97 L434.24,109.57 L434.31,110.16 L434.40,110.73 L434.49,111.30 L434.60,111.85 L434.71,112.40 L434.83,112.93 L434.95,113.45 L435.08,113.95 L435.22,114.45 L435.36,114.93 L435.50,115.40 L435.65,115.86 L435.80,116.31 L435.95,116.74 L436.10,117.16 L436.25,117.57 L436.40,117.97 L436.54,118.36 L436.69,118.74 L436.83,119.10 L436.97,119.46 L437.10,119.80 L437.23,120.14 L437.36,120.46 L437.48,120.78 L437.59,121.09 L437.69,121.39 L437.78,121.68 L437.87,121.97 L437.95,122.25 L438.02,122.52 L438.07,122.79 L438.12,123.06 L438.16,123.32 L438.18,123.58 L438.20,123.83 L438.20,124.09 L438.19,124.35 L438.17,124.60 L438.14,124.86 L438.09,125.11 L438.04,125.37 L437.97,125.64 L437.89,125.90 L437.79,126.18 L437.69,126.46 L437.57,126.74 L437.45,127.03 L437.31,127.33 L437.16,127.64 L437.01,127.96 L436.84,128.28 L436.67,128.62 L436.48,128.97 L436.29,129.33 L436.10,129.71 L435.89,130.09 L435.69,130.49 L435.47,130.91 L435.26,131.33 L435.04,131.78 L434.82,132.23 L434.60,132.70 L434.38,133.19 L434.16,133.69 L433.95,134.21 L433.73,134.74 L433.53,135.28 L433.32,135.85 L433.13,136.42 L432.94,137.01 L432.75,137.62 L432.58,138.24 L432.42,138.87 L432.27,139.52 L432.13,140.17 L432.01,140.84 L431.90,141.53 L431.80,142.22 L431.72,142.92 L431.66,143.64 L431.61,144.36 L431.59,145.09 L431.58,145.82 L431.59,146.57 L431.62,147.31 L431.67,148.07 L431.75,148.82 L431.84,149.58 L431.96,150.34 L432.10,151.10 L432.26,151.86 L432.45,152.61 L432.66,153.36 L432.89,154.11 L433.15,154.86 L433.43,155.59 L433.74,156.32 L434.07,157.05 L434.42,157.76 L434.80,158.46 L435.20,159.14 L435.62,159.82 L436.07,160.48 L436.54,161.12 L437.03,161.75 L437.54,162.36 L438.08,162.95 L438.63,163.52 L439.21,164.08 L439.80,164.60 L440.41,165.11 L441.05,165.59 L441.69,166.05 L442.36,166.48 L443.04,166.89 L443.73,167.27 L444.44,167.62 L445.16,167.94 L445.89,168.23 L446.63,168.50 L447.38,168.73 L448.14,168.93 L448.91,169.10 L449.68,169.24 L450.46,169.34 L451.23,169.42 L452.02,169.46 L452.80,169.47 L453.58,169.44 L454.36,169.39 L455.14,169.30 L455.92,169.17 L456.69,169.02 L457.45,168.83 L458.20,168.61 L458.95,168.35 L459.69,168.07 L460.41,167.76 L461.12,167.41 L461.82,167.03 L462.50,166.63 L463.17,166.20 L463.82,165.74 L464.46,165.25 L465.07,164.74 L465.67,164.20 L466.24,163.64 L466.80,163.05 L467.33,162.45 L467.84,161.82 L468.32,161.17 L468.79,160.51 L469.23,159.83 L469.64,159.13 L470.03,158.42 L470.40,157.69 L470.74,156.96 L471.05,156.21 L471.34,155.46 L471.60,154.69 L471.84,153.92 L472.06,153.15 L472.25,152.37 L472.41,151.59 L472.55,150.81 L472.67,150.03 L472.76,149.25 L472.83,148.47 L472.88,147.70 L472.91,146.93 L472.92,146.17 L472.90,145.42 L472.87,144.67 L472.82,143.93 L472.75,143.21 L472.67,142.49 L472.57,141.79 L472.46,141.09 L472.33,140.42 L472.19,139.75 L472.04,139.10 L471.88,138.46 L471.71,137.84 L471.53,137.24 L471.35,136.65 L471.16,136.07 L470.96,135.51 L470.76,134.97 L470.56,134.44 L470.35,133.93 L470.15,133.44 L469.94,132.96 L469.74,132.50 L469.54,132.05 L469.34,131.62 L469.14,131.20 L468.95,130.80 L468.76,130.41 L468.58,130.03 L468.41,129.67 L468.24,129.32 L468.08,128.98 L467.93,128.66 L467.79,128.34 L467.66,128.03 L467.54,127.73 L467.43,127.44 L467.34,127.16 L467.25,126.89 L467.17,126.62 L467.11,126.36 L467.05,126.10 L467.01,125.84 L466.99,125.59 L466.97,125.34 L466.97,125.09 L466.98,124.85 L467.00,124.60Z" fill="none" stroke="#f06a6c" stroke-width="1.4"/>
<g fill="url(#gr)"><circle cx="466.30" cy="124.60" r="2.6"/><circle cx="468.06" cy="120.51" r="2.6"/><circle cx="472.46" cy="113.25" r="2.6"/><circle cx="473.73" cy="103.67" r="2.6"/><circle cx="471.65" cy="91.95" r="2.6"/><circle cx="463.83" cy="83.45" r="2.6"/><circle cx="452.80" cy="82.80" r="2.6"/><circle cx="441.75" cy="83.35" r="2.6"/><circle cx="436.55" cy="96.45" r="2.6"/><circle cx="434.91" cy="106.71" r="2.6"/><circle cx="434.27" cy="113.90" r="2.6"/><circle cx="437.06" cy="120.38" r="2.6"/><circle cx="438.30" cy="124.60" r="2.6"/><circle cx="437.25" cy="128.77" r="2.6"/><circle cx="433.23" cy="135.90" r="2.6"/><circle cx="430.88" cy="146.52" r="2.6"/><circle cx="434.10" cy="156.99" r="2.6"/><circle cx="442.08" cy="164.59" r="2.6"/><circle cx="452.80" cy="170.40" r="2.6"/><circle cx="464.03" cy="166.52" r="2.6"/><circle cx="470.60" cy="155.43" r="2.6"/><circle cx="472.81" cy="144.61" r="2.6"/><circle cx="470.55" cy="134.85" r="2.6"/><circle cx="469.12" cy="128.97" r="2.6"/></g>
<g fill="url(#gb)"><circle cx="481.30" cy="124.60" r="3.0"/><circle cx="486.03" cy="115.70" r="3.0"/><circle cx="495.24" cy="100.10" r="3.0"/><circle cx="497.98" cy="79.42" r="3.0"/><circle cx="493.05" cy="54.88" r="3.0"/><circle cx="477.13" cy="33.80" r="3.0"/><circle cx="452.80" cy="31.10" r="3.0"/><circle cx="428.99" cy="35.73" r="3.0"/><circle cx="413.70" cy="56.88" r="3.0"/><circle cx="407.62" cy="79.42" r="3.0"/><circle cx="410.80" cy="100.35" r="3.0"/><circle cx="419.67" cy="115.72" r="3.0"/><circle cx="421.80" cy="124.60" r="3.0"/><circle cx="418.99" cy="133.66" r="3.0"/><circle cx="413.74" cy="147.15" r="3.0"/><circle cx="407.05" cy="170.35" r="3.0"/><circle cx="413.25" cy="193.10" r="3.0"/><circle cx="429.35" cy="212.11" r="3.0"/><circle cx="452.80" cy="220.60" r="3.0"/><circle cx="476.43" cy="212.79" r="3.0"/><circle cx="491.95" cy="192.41" r="3.0"/><circle cx="497.91" cy="169.71" r="3.0"/><circle cx="495.24" cy="149.10" r="3.0"/><circle cx="488.15" cy="134.07" r="3.0"/></g>
<text x="457.20" y="55.70" font-size="15.5" fill="#1e1f78" stroke="#1e1f78" stroke-width="0.28" font-weight="bold" font-style="italic">b</text>
<text x="505.60" y="122.60" font-size="15.5" fill="#d0141f" stroke="#d0141f" stroke-width="0.28" font-weight="bold" font-style="italic">a</text>
<path d="M317.3,26.1 V127.4 M314,26.1 H317.3 M314,51.4 H317.3 M314,76.7 H317.3 M314,102.1 H317.3 M314,127.4 H317.3" stroke="#777" stroke-width="1.1" fill="none"/>
<text x="311.30" y="29.70" font-size="10.2" fill="#231f20" stroke="#231f20" stroke-width="0.28" text-anchor="end">24</text>
<text x="311.30" y="55.00" font-size="10.2" fill="#231f20" stroke="#231f20" stroke-width="0.28" text-anchor="end">18</text>
<text x="311.30" y="80.30" font-size="10.2" fill="#231f20" stroke="#231f20" stroke-width="0.28" text-anchor="end">12</text>
<text x="311.30" y="105.70" font-size="10.2" fill="#231f20" stroke="#231f20" stroke-width="0.28" text-anchor="end">6</text>
<text x="311.30" y="131.00" font-size="10.2" fill="#231f20" stroke="#231f20" stroke-width="0.28" text-anchor="end">0</text>
<text x="292.60" y="198.10" font-size="11.6" fill="#231f20" stroke="#231f20" stroke-width="0.28" textLength="142.40" lengthAdjust="spacingAndGlyphs" transform="rotate(-90 292.60 198.10)">Integrated PL (10<tspan font-size="6.5" dy="-3.5">3</tspan><tspan dy="3.5"> counts/s)</tspan></text>
<text x="283.00" y="17.10" font-size="18" fill="#231f20" stroke="#231f20" stroke-width="0.5" font-weight="bold">b</text>
<text x="329.70" y="16.70" font-size="10" fill="#27246a" stroke="#27246a" stroke-width="0.28" textLength="54.00" lengthAdjust="spacingAndGlyphs">Excitation <tspan font-weight="bold" font-style="italic">b</tspan></text>
<text x="329.70" y="30.30" font-size="10" fill="#c8192e" stroke="#c8192e" stroke-width="0.28" textLength="53.30" lengthAdjust="spacingAndGlyphs">Excitation <tspan font-weight="bold" font-style="italic">a</tspan></text>
<text x="530.00" y="17.50" font-size="12.6" fill="#231f20" stroke="#231f20" stroke-width="0.28" textLength="31.70" lengthAdjust="spacingAndGlyphs">293 K</text>
<text x="447.50" y="15.50" font-size="10.6" fill="#231f20" stroke="#231f20" stroke-width="0.28" textLength="11.30" lengthAdjust="spacingAndGlyphs">90</text>
<text x="361.00" y="46.50" font-size="10.6" fill="#231f20" stroke="#231f20" stroke-width="0.28" textLength="16.00" lengthAdjust="spacingAndGlyphs">135</text>
<text x="528.80" y="46.20" font-size="10.6" fill="#231f20" stroke="#231f20" stroke-width="0.28" textLength="10.10" lengthAdjust="spacingAndGlyphs">45</text>
<text x="329.50" y="128.70" font-size="10.6" fill="#231f20" stroke="#231f20" stroke-width="0.28" textLength="16.40" lengthAdjust="spacingAndGlyphs">180</text>
<text x="560.00" y="128.10" font-size="10.6" fill="#231f20" stroke="#231f20" stroke-width="0.28" textLength="5.20" lengthAdjust="spacingAndGlyphs">0</text>
<text x="360.60" y="211.10" font-size="10.6" fill="#231f20" stroke="#231f20" stroke-width="0.28" textLength="16.50" lengthAdjust="spacingAndGlyphs">225</text>
<text x="527.70" y="211.10" font-size="10.6" fill="#231f20" stroke="#231f20" stroke-width="0.28" textLength="18.00" lengthAdjust="spacingAndGlyphs">315</text>
<text x="445.00" y="242.20" font-size="10.6" fill="#231f20" stroke="#231f20" stroke-width="0.28" textLength="16.40" lengthAdjust="spacingAndGlyphs">270</text>
<circle cx="451.4" cy="373.6" r="34.07" fill="none" stroke="#555" stroke-width="0.85" stroke-dasharray="3 2.4"/>
<circle cx="451.4" cy="373.6" r="68.13" fill="none" stroke="#555" stroke-width="0.85" stroke-dasharray="3 2.4"/>
<path d="M451.40,373.60 L549.60,373.60 M451.40,373.60 L520.84,304.16 M451.40,373.60 L451.40,275.40 M451.40,373.60 L381.96,304.16 M451.40,373.60 L353.20,373.60 M451.40,373.60 L381.96,443.04 M451.40,373.60 L451.40,471.80 M451.40,373.60 L520.84,443.04" fill="none" stroke="#555" stroke-width="0.85" stroke-dasharray="3 2.4"/>
<path d="M549.10,373.60 L553.60,373.60 M520.48,304.52 L523.67,301.33 M451.40,275.90 L451.40,271.40 M382.32,304.52 L379.13,301.33 M353.70,373.60 L349.20,373.60 M382.32,442.68 L379.13,445.87 M451.40,471.30 L451.40,475.80 M520.48,442.68 L523.67,445.87" fill="none" stroke="#222" stroke-width="1"/>
<circle cx="451.4" cy="373.6" r="102.2" fill="none" stroke="#1a1a1a" stroke-width="1.1"/>
<line x1="451.4" y1="373.6" x2="451.4" y2="316" stroke="#3b4aa8" stroke-width="1"/>
<polygon points="451.4,307.2 448.59999999999997,316.8 454.2,316.8" fill="#8b9bd8"/>
<line x1="451.4" y1="373.6" x2="492.5" y2="373.6" stroke="#d63a48" stroke-width="1"/>
<polygon points="501.4,373.6 492,371.1 492,376.1" fill="#f08a8a"/>
<path d="M546.84,373.60 L546.97,371.93 L547.03,370.26 L547.02,368.59 L546.94,366.92 L546.80,365.25 L546.58,363.60 L546.29,361.95 L545.93,360.31 L545.50,358.70 L545.00,357.10 L544.44,355.52 L543.80,353.96 L543.10,352.43 L542.33,350.93 L541.50,349.46 L540.60,348.02 L539.65,346.62 L538.63,345.26 L537.57,343.93 L536.44,342.65 L535.27,341.40 L534.05,340.21 L532.78,339.05 L531.48,337.95 L530.13,336.89 L528.75,335.87 L527.33,334.91 L525.89,333.99 L524.42,333.12 L522.93,332.30 L521.42,331.53 L519.89,330.80 L518.35,330.12 L516.79,329.49 L515.24,328.90 L513.67,328.36 L512.11,327.85 L510.54,327.39 L508.98,326.97 L507.43,326.59 L505.88,326.24 L504.35,325.93 L502.82,325.65 L501.31,325.40 L499.81,325.19 L498.34,325.00 L496.87,324.84 L495.43,324.70 L494.01,324.59 L492.60,324.49 L491.22,324.42 L489.86,324.37 L488.52,324.34 L487.21,324.32 L485.91,324.31 L484.64,324.32 L483.39,324.34 L482.16,324.38 L480.95,324.42 L479.76,324.48 L478.60,324.54 L477.45,324.61 L476.32,324.69 L475.22,324.77 L474.13,324.86 L473.06,324.96 L472.00,325.06 L470.97,325.16 L469.95,325.27 L468.95,325.39 L467.96,325.51 L466.99,325.63 L466.03,325.75 L465.09,325.87 L464.16,326.00 L463.24,326.12 L462.33,326.25 L461.44,326.38 L460.56,326.50 L459.68,326.63 L458.82,326.75 L457.97,326.87 L457.12,326.98 L456.29,327.09 L455.46,327.20 L454.64,327.30 L453.82,327.40 L453.01,327.48 L452.20,327.56 L451.40,327.63 L450.60,327.69 L449.80,327.74 L449.00,327.78 L448.20,327.80 L447.39,327.82 L446.59,327.82 L445.78,327.81 L444.96,327.78 L444.14,327.74 L443.30,327.69 L442.46,327.62 L441.61,327.54 L440.74,327.44 L439.86,327.33 L438.97,327.21 L438.06,327.07 L437.13,326.92 L436.18,326.76 L435.22,326.60 L434.23,326.42 L433.22,326.23 L432.19,326.04 L431.13,325.85 L430.05,325.65 L428.95,325.45 L427.82,325.25 L426.66,325.05 L425.49,324.86 L424.28,324.68 L423.05,324.50 L421.80,324.33 L420.52,324.18 L419.22,324.04 L417.89,323.92 L416.54,323.82 L415.18,323.74 L413.79,323.69 L412.38,323.66 L410.96,323.65 L409.51,323.68 L408.06,323.74 L406.59,323.84 L405.12,323.97 L403.63,324.13 L402.14,324.34 L400.64,324.58 L399.14,324.86 L397.64,325.19 L396.14,325.56 L394.64,325.97 L393.15,326.43 L391.67,326.94 L390.20,327.48 L388.75,328.08 L387.30,328.72 L385.88,329.41 L384.47,330.14 L383.09,330.91 L381.73,331.74 L380.39,332.60 L379.09,333.52 L377.81,334.47 L376.56,335.47 L375.35,336.51 L374.17,337.59 L373.02,338.70 L371.92,339.86 L370.85,341.06 L369.82,342.29 L368.84,343.55 L367.90,344.85 L367.00,346.18 L366.15,347.54 L365.34,348.92 L364.58,350.34 L363.87,351.78 L363.21,353.24 L362.60,354.73 L362.04,356.23 L361.53,357.75 L361.08,359.29 L360.67,360.85 L360.32,362.42 L360.02,364.00 L359.78,365.58 L359.58,367.18 L359.45,368.78 L359.36,370.39 L359.33,371.99 L359.36,373.60 L359.44,375.21 L359.57,376.81 L359.76,378.40 L360.00,379.99 L360.29,381.57 L360.64,383.14 L361.04,384.69 L361.49,386.24 L362.00,387.76 L362.55,389.27 L363.15,390.75 L363.80,392.22 L364.50,393.66 L365.25,395.08 L366.04,396.47 L366.88,397.83 L367.76,399.17 L368.69,400.47 L369.65,401.75 L370.66,402.99 L371.70,404.19 L372.78,405.36 L373.89,406.50 L375.04,407.60 L376.22,408.66 L377.43,409.68 L378.66,410.66 L379.92,411.60 L381.21,412.51 L382.52,413.37 L383.85,414.19 L385.20,414.97 L386.56,415.70 L387.95,416.40 L389.34,417.06 L390.74,417.67 L392.16,418.24 L393.58,418.77 L395.01,419.26 L396.44,419.72 L397.88,420.13 L399.31,420.50 L400.74,420.84 L402.18,421.13 L403.60,421.40 L405.03,421.62 L406.44,421.81 L407.85,421.97 L409.24,422.09 L410.63,422.19 L412.00,422.25 L413.36,422.28 L414.71,422.29 L416.04,422.27 L417.35,422.22 L418.65,422.15 L419.93,422.06 L421.19,421.94 L422.43,421.81 L423.65,421.66 L424.85,421.49 L426.03,421.31 L427.19,421.11 L428.33,420.90 L429.45,420.68 L430.54,420.45 L431.61,420.22 L432.66,419.98 L433.69,419.73 L434.70,419.49 L435.68,419.24 L436.65,418.99 L437.60,418.75 L438.52,418.51 L439.43,418.28 L440.32,418.05 L441.19,417.83 L442.04,417.62 L442.88,417.42 L443.71,417.24 L444.52,417.07 L445.31,416.91 L446.10,416.77 L446.88,416.65 L447.64,416.54 L448.40,416.45 L449.16,416.38 L449.91,416.33 L450.65,416.30 L451.40,416.29 L452.15,416.30 L452.89,416.34 L453.64,416.39 L454.40,416.46 L455.16,416.55 L455.93,416.66 L456.70,416.79 L457.49,416.94 L458.29,417.11 L459.10,417.29 L459.93,417.49 L460.77,417.70 L461.63,417.92 L462.51,418.16 L463.40,418.40 L464.32,418.65 L465.25,418.91 L466.21,419.18 L467.18,419.44 L468.18,419.71 L469.20,419.98 L470.24,420.24 L471.31,420.50 L472.39,420.75 L473.50,421.00 L474.63,421.23 L475.78,421.46 L476.96,421.66 L478.15,421.86 L479.36,422.03 L480.59,422.18 L481.84,422.32 L483.11,422.43 L484.39,422.52 L485.69,422.58 L487.01,422.61 L488.34,422.62 L489.68,422.60 L491.03,422.54 L492.40,422.46 L493.77,422.34 L495.15,422.19 L496.54,422.01 L497.94,421.79 L499.34,421.54 L500.74,421.25 L502.15,420.92 L503.55,420.56 L504.96,420.16 L506.37,419.72 L507.78,419.25 L509.18,418.74 L510.58,418.19 L511.97,417.61 L513.36,416.98 L514.74,416.32 L516.11,415.62 L517.47,414.89 L518.83,414.11 L520.17,413.30 L521.49,412.45 L522.80,411.57 L524.10,410.64 L525.38,409.68 L526.64,408.68 L527.88,407.65 L529.10,406.58 L530.29,405.47 L531.46,404.33 L532.61,403.16 L533.72,401.95 L534.81,400.70 L535.86,399.42 L536.88,398.11 L537.86,396.77 L538.80,395.39 L539.71,393.99 L540.57,392.55 L541.38,391.09 L542.15,389.60 L542.87,388.09 L543.54,386.55 L544.16,384.99 L544.72,383.41 L545.23,381.81 L545.67,380.19 L546.06,378.56 L546.38,376.92 L546.64,375.26 L546.84,373.60Z" fill="none" stroke="#f7a182" stroke-width="1.7"/>
<g fill="url(#go)"><circle cx="548.97" cy="368.49" r="3.0"/><circle cx="543.38" cy="352.36" r="3.0"/><circle cx="532.04" cy="339.37" r="3.0"/><circle cx="517.40" cy="330.74" r="3.0"/><circle cx="503.55" cy="324.97" r="3.0"/><circle cx="488.95" cy="323.77" r="3.0"/><circle cx="476.05" cy="325.22" r="3.0"/><circle cx="465.84" cy="326.36" r="3.0"/><circle cx="457.26" cy="325.86" r="3.0"/><circle cx="449.03" cy="328.46" r="3.0"/><circle cx="440.80" cy="327.71" r="3.0"/><circle cx="431.04" cy="325.64" r="3.0"/><circle cx="418.67" cy="323.20" r="3.0"/><circle cx="405.71" cy="324.60" r="3.0"/><circle cx="390.46" cy="327.68" r="3.0"/><circle cx="376.73" cy="335.56" r="3.0"/><circle cx="365.33" cy="347.29" r="3.0"/><circle cx="360.09" cy="362.39" r="3.0"/><circle cx="359.93" cy="378.39" r="3.0"/><circle cx="365.66" cy="393.40" r="3.0"/><circle cx="373.71" cy="406.58" r="3.0"/><circle cx="385.56" cy="416.35" r="3.0"/><circle cx="400.42" cy="421.14" r="3.0"/><circle cx="415.71" cy="420.96" r="3.0"/><circle cx="427.25" cy="421.00" r="3.0"/><circle cx="437.19" cy="420.08" r="3.0"/><circle cx="446.18" cy="416.08" r="3.0"/><circle cx="453.65" cy="416.54" r="3.0"/><circle cx="461.66" cy="418.03" r="3.0"/><circle cx="471.17" cy="420.18" r="3.0"/><circle cx="483.21" cy="422.58" r="3.0"/><circle cx="496.07" cy="421.50" r="3.0"/><circle cx="511.46" cy="418.86" r="3.0"/><circle cx="524.64" cy="410.92" r="3.0"/><circle cx="534.41" cy="398.98" r="3.0"/><circle cx="543.31" cy="384.89" r="3.0"/></g>
<g fill="url(#gg)"><circle cx="464.13" cy="373.04" r="2.5"/><circle cx="464.73" cy="370.64" r="2.5"/><circle cx="466.11" cy="367.51" r="2.5"/><circle cx="467.77" cy="363.17" r="2.5"/><circle cx="468.94" cy="357.53" r="2.5"/><circle cx="468.79" cy="350.94" r="2.5"/><circle cx="466.68" cy="344.25" r="2.5"/><circle cx="462.45" cy="338.57" r="2.5"/><circle cx="456.48" cy="335.00" r="2.5"/><circle cx="449.68" cy="334.28" r="2.5"/><circle cx="443.19" cy="336.55" r="2.5"/><circle cx="438.03" cy="341.32" r="2.5"/><circle cx="434.86" cy="347.64" r="2.5"/><circle cx="433.79" cy="354.39" r="2.5"/><circle cx="434.44" cy="360.58" r="2.5"/><circle cx="436.06" cy="365.61" r="2.5"/><circle cx="437.83" cy="369.32" r="2.5"/><circle cx="439.01" cy="371.97" r="2.5"/><circle cx="439.15" cy="374.13" r="2.5"/><circle cx="438.18" cy="376.53" r="2.5"/><circle cx="436.42" cy="379.81" r="2.5"/><circle cx="434.53" cy="384.35" r="2.5"/><circle cx="433.36" cy="390.13" r="2.5"/><circle cx="433.72" cy="396.64" r="2.5"/><circle cx="436.10" cy="402.99" r="2.5"/><circle cx="440.52" cy="408.11" r="2.5"/><circle cx="446.47" cy="411.05" r="2.5"/><circle cx="453.05" cy="411.29" r="2.5"/><circle cx="459.21" cy="408.84" r="2.5"/><circle cx="464.09" cy="404.24" r="2.5"/><circle cx="467.19" cy="398.38" r="2.5"/><circle cx="468.44" cy="392.20" r="2.5"/><circle cx="468.19" cy="386.48" r="2.5"/><circle cx="467.02" cy="381.73" r="2.5"/><circle cx="465.58" cy="378.07" r="2.5"/><circle cx="464.47" cy="375.32" r="2.5"/></g>
<text x="455.80" y="310.90" font-size="15" fill="#1e1f78" stroke="#1e1f78" stroke-width="0.28" font-weight="bold" font-style="italic">b</text>
<text x="501.80" y="370.70" font-size="15" fill="#d0141f" stroke="#d0141f" stroke-width="0.28" font-weight="bold" font-style="italic">a</text>
<text x="370.40" y="388.10" font-size="16.3" fill="#f26a2a" stroke="#f26a2a" stroke-width="0.6" textLength="10.70" lengthAdjust="spacingAndGlyphs">D</text>
<text x="419.60" y="348.70" font-size="15.6" fill="#1b7a42" stroke="#1b7a42" stroke-width="0.6" textLength="9.40" lengthAdjust="spacingAndGlyphs">X</text>
<path d="M317.1,272.3 V375.1 M313.8,272.3 H317.1 M313.8,306.6 H317.1 M313.8,340.8 H317.1 M313.8,375.1 H317.1" stroke="#777" stroke-width="1.1" fill="none"/>
<text x="310.80" y="275.90" font-size="10.2" fill="#231f20" stroke="#231f20" stroke-width="0.28" text-anchor="end">9</text>
<text x="310.80" y="310.20" font-size="10.2" fill="#231f20" stroke="#231f20" stroke-width="0.28" text-anchor="end">6</text>
<text x="310.80" y="344.40" font-size="10.2" fill="#231f20" stroke="#231f20" stroke-width="0.28" text-anchor="end">3</text>
<text x="310.80" y="378.70" font-size="10.2" fill="#231f20" stroke="#231f20" stroke-width="0.28" text-anchor="end">0</text>
<text x="293.80" y="446.40" font-size="11.6" fill="#231f20" stroke="#231f20" stroke-width="0.28" textLength="142.70" lengthAdjust="spacingAndGlyphs" transform="rotate(-90 293.80 446.40)">Integrated PL (10<tspan font-size="6.5" dy="-3.5">3</tspan><tspan dy="3.5"> counts/s)</tspan></text>
<text x="282.80" y="265.60" font-size="18" fill="#231f20" stroke="#231f20" stroke-width="0.5" font-weight="bold">d</text>
<text x="329.70" y="265.20" font-size="10" fill="#27246a" stroke="#27246a" stroke-width="0.28" textLength="53.80" lengthAdjust="spacingAndGlyphs">Excitation <tspan font-weight="bold" font-style="italic">b</tspan></text>
<text x="534.60" y="268.50" font-size="12.6" fill="#231f20" stroke="#231f20" stroke-width="0.28" textLength="24.80" lengthAdjust="spacingAndGlyphs">20 K</text>
<text x="446.10" y="264.70" font-size="10.6" fill="#231f20" stroke="#231f20" stroke-width="0.28" textLength="11.10" lengthAdjust="spacingAndGlyphs">90</text>
<text x="359.90" y="296.00" font-size="10.6" fill="#231f20" stroke="#231f20" stroke-width="0.28" textLength="15.20" lengthAdjust="spacingAndGlyphs">135</text>
<text x="527.10" y="295.30" font-size="10.6" fill="#231f20" stroke="#231f20" stroke-width="0.28" textLength="11.00" lengthAdjust="spacingAndGlyphs">45</text>
<text x="328.60" y="377.40" font-size="10.6" fill="#231f20" stroke="#231f20" stroke-width="0.28" textLength="16.00" lengthAdjust="spacingAndGlyphs">180</text>
<text x="558.60" y="377.40" font-size="10.6" fill="#231f20" stroke="#231f20" stroke-width="0.28" textLength="4.80" lengthAdjust="spacingAndGlyphs">0</text>
<text x="358.40" y="459.20" font-size="10.6" fill="#231f20" stroke="#231f20" stroke-width="0.28" textLength="18.50" lengthAdjust="spacingAndGlyphs">225</text>
<text x="526.50" y="459.20" font-size="10.6" fill="#231f20" stroke="#231f20" stroke-width="0.28" textLength="17.30" lengthAdjust="spacingAndGlyphs">315</text>
<text x="443.10" y="489.90" font-size="10.6" fill="#231f20" stroke="#231f20" stroke-width="0.28" textLength="16.80" lengthAdjust="spacingAndGlyphs">270</text>
</svg></body></html>
